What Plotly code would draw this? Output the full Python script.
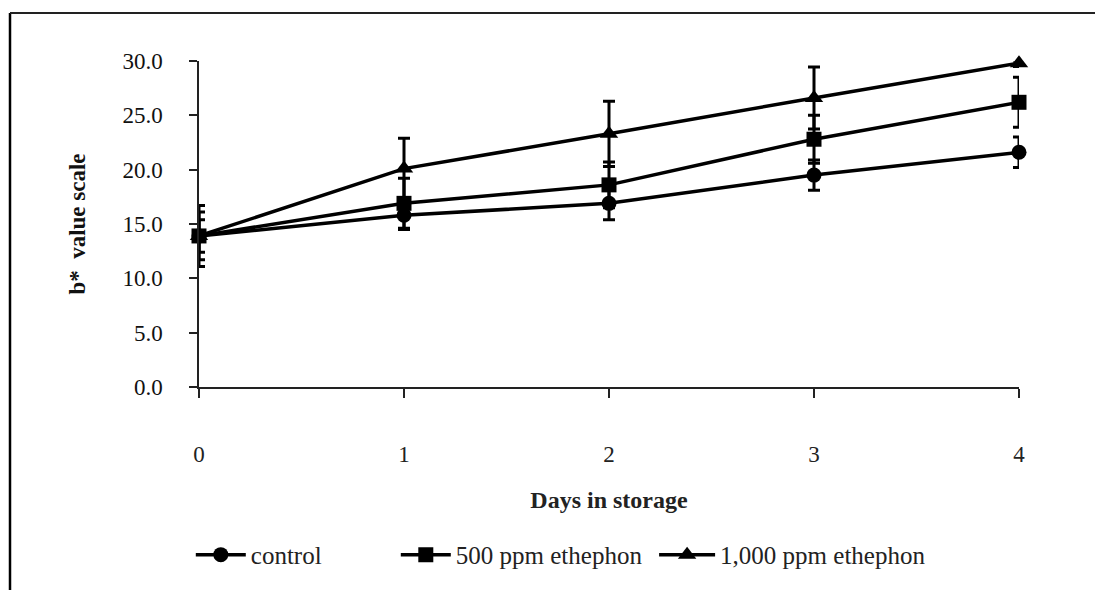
import plotly.graph_objects as go

days = [0, 1, 2, 3, 4]
day_labels = ["0", "1", "2", "3", "4"]

control = [13.9, 15.8, 16.9, 19.5, 21.6]
control_err = [1.5, 1.3, 1.5, 1.4, 1.4]

eth500 = [13.9, 16.9, 18.6, 22.8, 26.2]
eth500_err = [2.2, 2.3, 2.1, 2.2, 2.3]

eth1000 = [13.9, 20.1, 23.3, 26.6, 29.8]
eth1000_err = [2.8, 2.8, 3.0, 2.85, 0.3]

series_names = ["control", "500 ppm ethephon", "1,000 ppm ethephon"]
y_ticks = [0, 5, 10, 15, 20, 25, 30]
y_ticktext = ["0.0", "5.0", "10.0", "15.0", "20.0", "25.0", "30.0"]

FONT = "Liberation Serif, Times New Roman, serif"

L, R, T, B = 199, 76, 61, 203
W, H = 1095, 590
pw, ph = W - L - R, H - T - B

fig = go.Figure()
specs = [
    (control, control_err, "circle", "legend"),
    (eth500, eth500_err, "square", "legend2"),
    (eth1000, eth1000_err, "triangle-up", "legend3"),
]
for name, (vals, errs, sym, lg) in zip(series_names, specs):
    fig.add_trace(go.Scatter(
        x=days, y=vals, name=name, mode="lines+markers",
        line=dict(color="black", width=3.5),
        marker=dict(symbol=sym, size=15 if sym != "triangle-up" else 16, color="black"),
        error_y=dict(type="data", array=errs, visible=True, color="black",
                     thickness=3, width=6),
        cliponaxis=False, legend=lg,
    ))

legend_font = dict(size=25, family=FONT, color="#222")
common = dict(orientation="h", xanchor="left", y=-0.515, yanchor="middle",
              bgcolor="rgba(0,0,0,0)", font=legend_font)
fig.update_layout(
    width=W, height=H,
    margin=dict(l=L, r=R, t=T, b=B),
    paper_bgcolor="white", plot_bgcolor="white",
    font=dict(family=FONT, size=23, color="#111"),
    showlegend=True,
    legend=dict(x=-0.01, itemwidth=50, **common),
    legend2=dict(x=0.24, itemwidth=50, **common),
    legend3=dict(x=0.555, itemwidth=56, **common),
)

fig.update_xaxes(
    range=[0, 4], tickmode="array", tickvals=days, ticktext=day_labels,
    showline=True, linecolor="#222", linewidth=1.5, mirror=False,
    ticks="outside", ticklen=9, tickwidth=1.5, tickcolor="#222",
    showgrid=False, zeroline=False, ticklabelstandoff=37,
    tickfont=dict(size=23, family=FONT, color="#222"),
    title=dict(text="<b>Days in storage</b>", standoff=25,
               font=dict(size=24, family=FONT, color="#222")),
)
fig.update_yaxes(
    range=[0, 30], tickmode="array", tickvals=y_ticks, ticktext=y_ticktext,
    showline=True, linecolor="#222", linewidth=1.5,
    ticks="outside", ticklen=8, tickwidth=1.5, tickcolor="#222",
    showgrid=False, zeroline=False, ticklabelstandoff=22,
    tickfont=dict(size=23, family=FONT, color="#111"),
    title=dict(text="<b>b*  value scale</b>", standoff=30,
               font=dict(size=23, family=FONT, color="#111")),
)

# outer frame (left and top edges of the scanned chart box)
x_left = (10 - L) / pw
x_right = (W - L) / pw
y_top = 1 + (T - 13) / ph
y_bot = (ph + T - H) / ph
fig.add_shape(type="line", xref="paper", yref="paper", x0=x_left, x1=x_left,
              y0=y_bot, y1=y_top, line=dict(color="black", width=2.5))
fig.add_shape(type="line", xref="paper", yref="paper", x0=x_left, x1=x_right,
              y0=y_top, y1=y_top, line=dict(color="#222", width=2))

fig.write_html("out.html")
